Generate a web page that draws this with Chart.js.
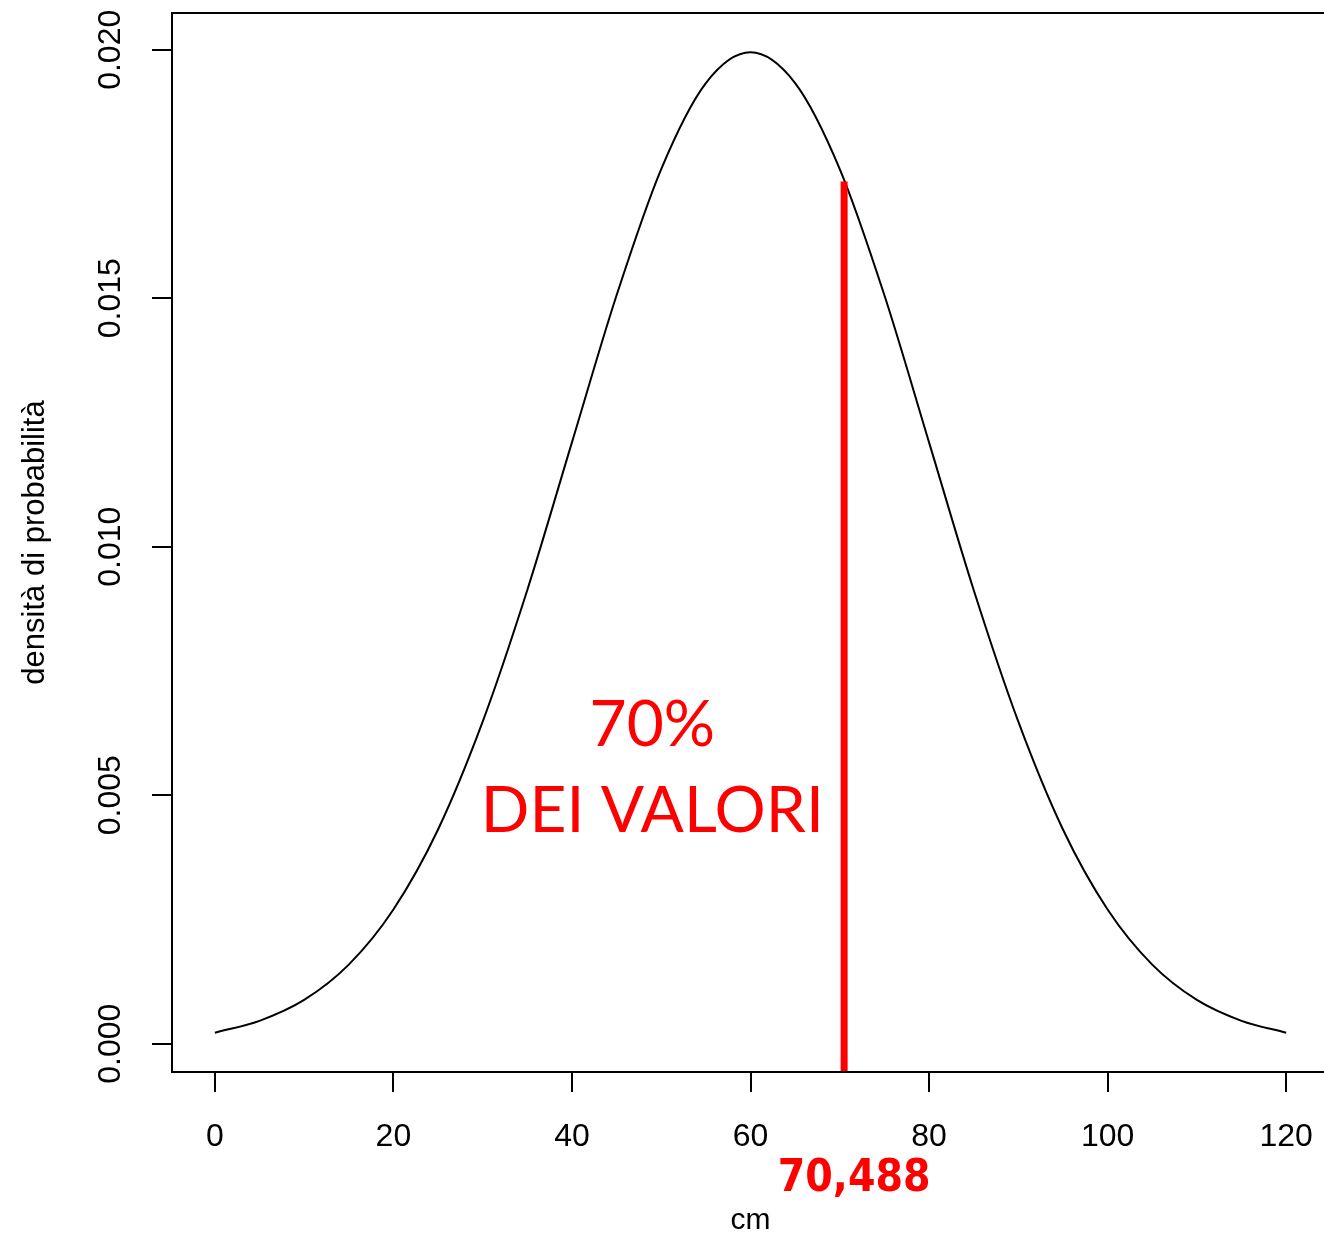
<!DOCTYPE html>
<html>
<head>
<meta charset="utf-8">
<script src="https://cdn.jsdelivr.net/npm/chart.js@4.4.0/dist/chart.umd.min.js"></script>
<style>
    html, body { margin: 0; padding: 0; background: #fff; overflow: hidden; }
    #wrap { width: 1340px; height: 1236px; }
</style>
</head>
<body>
<div id="wrap"><canvas id="grafico" width="1340" height="1236"></canvas></div>
<script>
// valori (densita normale, media 60, sd 20)
const cmValues = [0, 5, 10, 15, 20, 25, 30, 35, 40, 45, 50, 55, 60, 65, 70, 75, 80, 85, 90, 95, 100, 105, 110, 115, 120];
const densityValues = [0.00022, 0.00046, 0.00088, 0.00159, 0.00270, 0.00431, 0.00648, 0.00913, 0.01210, 0.01506,
    0.01760, 0.01933, 0.01995, 0.01933, 0.01760, 0.01506, 0.01210, 0.00913, 0.00648, 0.00431,
    0.00270, 0.00159, 0.00088, 0.00046, 0.00022];
const xTicks = [0, 20, 40, 60, 80, 100, 120];
const yTicks = [0, 0.005, 0.010, 0.015, 0.020];
const yTickLabels = ['0.000', '0.005', '0.010', '0.015', '0.020'];
const cutValue = 70.488;
const cutDensity = 0.01735;
const cutLabel = '70,488';
const areaLabel = ['70%', 'DEI VALORI'];

// limiti come in R (4% in piu)
const xMin = -4.8, xMax = 124.8;
const yMin = -0.00057, yMax = 0.02074;

const axisFont = { family: "'Liberation Sans', Arial, sans-serif", size: 32 };

const boxAndText = {
    id: 'boxAndText',
    afterDraw(chart) {
        const c = chart.ctx;
        const a = chart.chartArea;
        const xs = chart.scales.x, ys = chart.scales.y;
        c.save();
        c.strokeStyle = '#000';
        c.lineWidth = 2;
        c.strokeRect(a.left, a.top, a.right - a.left, a.bottom - a.top);

        c.fillStyle = '#ff0000';
        c.textAlign = 'center';
        c.textBaseline = 'middle';
        c.font = "64px Lato, 'Open Sans', sans-serif";
        c.fillText(areaLabel[0], xs.getPixelForValue(49), ys.getPixelForValue(0.0064));
        c.fillText(areaLabel[1], xs.getPixelForValue(49), ys.getPixelForValue(0.00467));

        c.font = "bold 44px 'DejaVu Sans Condensed', 'DejaVu Sans', sans-serif";
        c.fillText(cutLabel, xs.getPixelForValue(cutValue) + 10, 1180);
        c.restore();
    }
};

new Chart(document.getElementById('grafico'), {
    type: 'line',
    data: {
        datasets: [{
            data: cmValues.map((v, i) => ({ x: v, y: densityValues[i] })),
            borderColor: '#000',
            borderWidth: 2,
            pointRadius: 0,
            fill: false,
            cubicInterpolationMode: 'monotone',
            order: 1
        }, {
            data: [{ x: cutValue, y: yMin }, { x: cutValue, y: cutDensity }],
            borderColor: '#ff0000',
            borderWidth: 7,
            borderCapStyle: 'butt',
            pointRadius: 0,
            fill: false,
            order: 0
        }]
    },
    options: {
        responsive: false,
        animation: false,
        devicePixelRatio: 1,
        layout: { padding: { top: 13, right: 11, left: 0, bottom: 0 } },
        plugins: {
            legend: { display: false },
            tooltip: { enabled: false }
        },
        scales: {
            x: {
                type: 'linear',
                min: xMin,
                max: xMax,
                afterBuildTicks: (s) => { s.ticks = xTicks.map(v => ({ value: v })); },
                afterFit: (s) => { s.height = 164; s.paddingLeft = 0; s.paddingRight = 0; },
                ticks: {
                    autoSkip: false,
                    maxRotation: 0,
                    color: '#000',
                    font: axisFont,
                    padding: 26,
                    callback: (v) => String(v)
                },
                grid: { drawOnChartArea: false, color: '#000', lineWidth: 2, tickLength: 20 },
                border: { display: false },
                title: {
                    display: true,
                    text: 'cm',
                    color: '#000',
                    font: { family: axisFont.family, size: 30 },
                    padding: { top: 0, bottom: -3 }
                }
            },
            y: {
                type: 'linear',
                min: yMin,
                max: yMax,
                afterBuildTicks: (s) => { s.ticks = yTicks.map(v => ({ value: v })); },
                afterFit: (s) => { s.width = 172; s.paddingTop = 0; s.paddingBottom = 0; },
                ticks: {
                    autoSkip: false,
                    minRotation: 90,
                    maxRotation: 90,
                    crossAlign: 'center',
                    color: '#000',
                    font: axisFont,
                    padding: 1,
                    callback: (v) => yTickLabels[yTicks.indexOf(v)]
                },
                grid: { drawOnChartArea: false, color: '#000', lineWidth: 2, tickLength: 20 },
                border: { display: false },
                title: {
                    display: true,
                    text: 'densità di probabilità',
                    color: '#000',
                    font: { family: axisFont.family, size: 31 },
                    padding: { top: 17, bottom: 0 }
                }
            }
        }
    },
    plugins: [boxAndText]
});
</script>
</body>
</html>
